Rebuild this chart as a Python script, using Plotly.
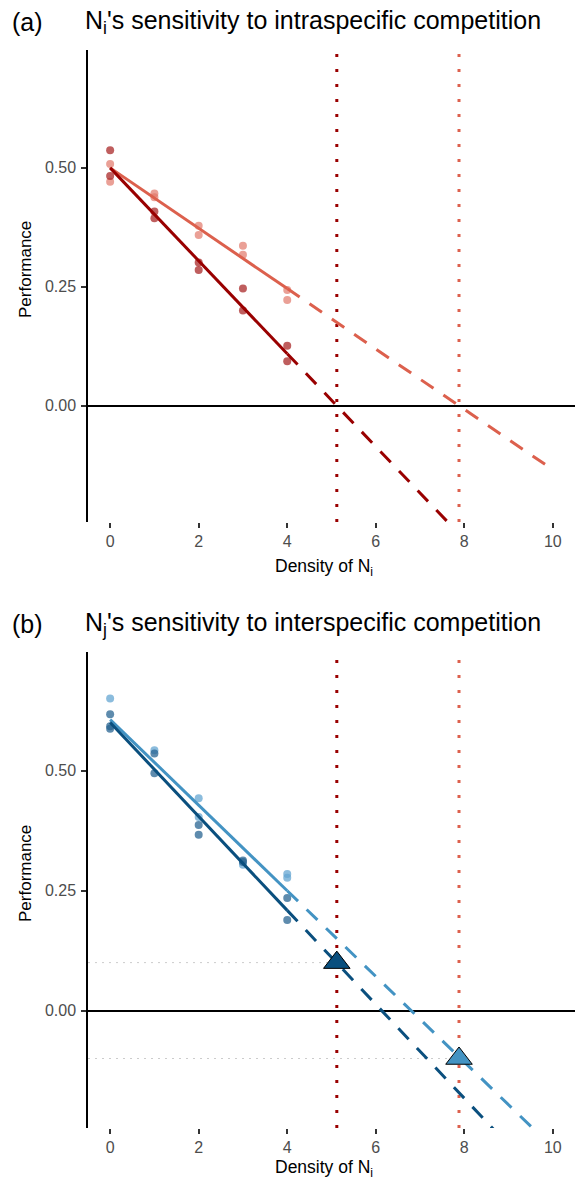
import plotly.graph_objects as go

W, H = 577, 1183

# ---------------- data ----------------
x_ticks = [0, 2, 4, 6, 8, 10]
y_ticks = [0.0, 0.25, 0.5]
y_tick_labels = ["0.00", "0.25", "0.50"]

# thresholds (vertical dotted lines): dark, light
thresholds = [5.12, 7.88]

# Panel (a)
a_dark_x = [0, 0, 1, 1, 2, 2, 3, 3, 4, 4]
a_dark_y = [0.537, 0.483, 0.408, 0.394, 0.301, 0.285, 0.246, 0.200, 0.126, 0.093]
a_light_x = [0, 0, 1, 1, 2, 2, 3, 3, 4, 4]
a_light_y = [0.508, 0.471, 0.446, 0.438, 0.378, 0.359, 0.336, 0.317, 0.243, 0.222]
fit_x = [0, 4, 10]
a_dark_fit = [0.500, 0.109, -0.477]
a_light_fit = [0.500, 0.246, -0.135]

# Panel (b)
b_dark_x = [0, 0, 0, 1, 1, 2, 2, 3, 3, 4, 4]
b_dark_y = [0.618, 0.593, 0.588, 0.536, 0.495, 0.387, 0.367, 0.313, 0.310, 0.235, 0.189]
b_light_x = [0, 1, 2, 2, 3, 4, 4]
b_light_y = [0.651, 0.543, 0.443, 0.404, 0.304, 0.285, 0.277]
b_dark_fit = [0.601, 0.209, -0.379]
b_light_fit = [0.607, 0.250, -0.286]
tri_x = [5.12, 7.88]
tri_y = [0.10, -0.10]

# ---------------- styles ----------------
DARK_RED = "#990000"
LIGHT_RED = "#dc604d"
DARK_BLUE = "#0a4f7e"
LIGHT_BLUE = "#4393c3"
PT_DARK_RED = "rgba(170,40,40,0.75)"
PT_LIGHT_RED = "rgba(225,120,105,0.7)"
PT_DARK_BLUE = "rgba(40,100,145,0.75)"
PT_LIGHT_BLUE = "rgba(100,165,210,0.75)"
FONT = "Liberation Sans, Arial, sans-serif"

fig = go.Figure()

def px_x(p):
    return p / W

def px_y(p):
    return 1 - p / H

XDOM = [px_x(88), px_x(575)]
YDOM_A = [px_y(522), px_y(50)]
YDOM_B = [px_y(1128), px_y(652)]
XR = [-0.5, 10.5]
YR = [-0.245, 0.748]


def add_fit(xa, ya, yvals, color):
    fig.add_trace(go.Scatter(x=fit_x[:2], y=yvals[:2], mode="lines",
                             line=dict(color=color, width=3),
                             xaxis=xa, yaxis=ya, showlegend=False, hoverinfo="skip"))
    fig.add_trace(go.Scatter(x=fit_x[1:], y=yvals[1:], mode="lines",
                             line=dict(color=color, width=3, dash="15px,12px"),
                             xaxis=xa, yaxis=ya, showlegend=False, hoverinfo="skip"))


def add_pts(xa, ya, xs, ys, color):
    fig.add_trace(go.Scatter(x=xs, y=ys, mode="markers",
                             marker=dict(color=color, size=8, line=dict(width=0)),
                             xaxis=xa, yaxis=ya, showlegend=False))


def add_vlines(xa, ya):
    for xv, c in zip(thresholds, [DARK_RED, LIGHT_RED]):
        fig.add_trace(go.Scatter(x=[xv, xv], y=YR, mode="lines",
                                 line=dict(color=c, width=3, dash="3px,12px"),
                                 xaxis=xa, yaxis=ya, showlegend=False, hoverinfo="skip"))


# Panel (a)
add_vlines("x", "y")
add_pts("x", "y", a_light_x, a_light_y, PT_LIGHT_RED)
add_pts("x", "y", a_dark_x, a_dark_y, PT_DARK_RED)
add_fit("x", "y", a_light_fit, LIGHT_RED)
add_fit("x", "y", a_dark_fit, DARK_RED)

# Panel (b)
for tx, ty in zip(tri_x, tri_y):
    fig.add_trace(go.Scatter(x=[XR[0], tx], y=[ty, ty], mode="lines",
                             line=dict(color="#cccccc", width=1, dash="2px,5px"),
                             xaxis="x2", yaxis="y2", showlegend=False, hoverinfo="skip"))
add_vlines("x2", "y2")
add_pts("x2", "y2", b_light_x, b_light_y, PT_LIGHT_BLUE)
add_pts("x2", "y2", b_dark_x, b_dark_y, PT_DARK_BLUE)
add_fit("x2", "y2", b_light_fit, LIGHT_BLUE)
add_fit("x2", "y2", b_dark_fit, DARK_BLUE)
fig.add_trace(go.Scatter(x=tri_x, y=tri_y, mode="markers",
                         marker=dict(symbol="triangle-up", size=23,
                                     color=[DARK_BLUE, LIGHT_BLUE],
                                     line=dict(color="black", width=1)),
                         xaxis="x2", yaxis="y2", showlegend=False))

xaxis_common = dict(range=XR, domain=XDOM, showline=False, showgrid=False, zeroline=False,
                    tickmode="array", tickvals=x_ticks, ticks="outside", ticklen=5,
                    tickwidth=1.5, tickcolor="#333333",
                    tickfont=dict(family=FONT, size=16, color="#4d4d4d"))
yaxis_common = dict(range=YR, showline=True, linecolor="black", linewidth=1.5,
                    showgrid=False, zeroline=True, zerolinecolor="black", zerolinewidth=2,
                    tickmode="array", tickvals=y_ticks, ticktext=y_tick_labels,
                    ticks="outside", ticklen=5, tickwidth=1.5, tickcolor="#333333",
                    ticklabelstandoff=2,
                    tickfont=dict(family=FONT, size=16, color="#4d4d4d"))

fig.update_layout(
    width=W, height=H,
    margin=dict(l=0, r=0, t=0, b=0),
    paper_bgcolor="white", plot_bgcolor="white",
    xaxis=dict(**xaxis_common, anchor="y"),
    yaxis=dict(**yaxis_common, domain=YDOM_A, anchor="x"),
    xaxis2=dict(**xaxis_common, anchor="y2"),
    yaxis2=dict(**yaxis_common, domain=YDOM_B, anchor="x2"),
)

def ann(text, x, y, size, xanchor="left", angle=0):
    fig.add_annotation(text=text, x=px_x(x), y=px_y(y), xref="paper", yref="paper",
                       showarrow=False, xanchor=xanchor, yanchor="middle", textangle=angle,
                       font=dict(family=FONT, size=size, color="black"))

ann("(a)", 10, 22, 25)
ann("N<sub>i</sub>'s sensitivity to intraspecific competition", 83, 22, 25)
ann("(b)", 10, 624, 25)
ann("N<sub>j</sub>'s sensitivity to interspecific competition", 83, 624, 25)
ann("Density of N<sub>i</sub>", 324, 567, 17.5, xanchor="center")
ann("Density of N<sub>i</sub>", 324, 1168, 17.5, xanchor="center")
ann("Performance", 25, 270, 17, xanchor="center", angle=-90)
ann("Performance", 25, 874, 17, xanchor="center", angle=-90)

fig.write_html("out.html", config={"displayModeBar": False},
               post_script="document.body.style.margin='0px';document.body.style.overflow='hidden';")
